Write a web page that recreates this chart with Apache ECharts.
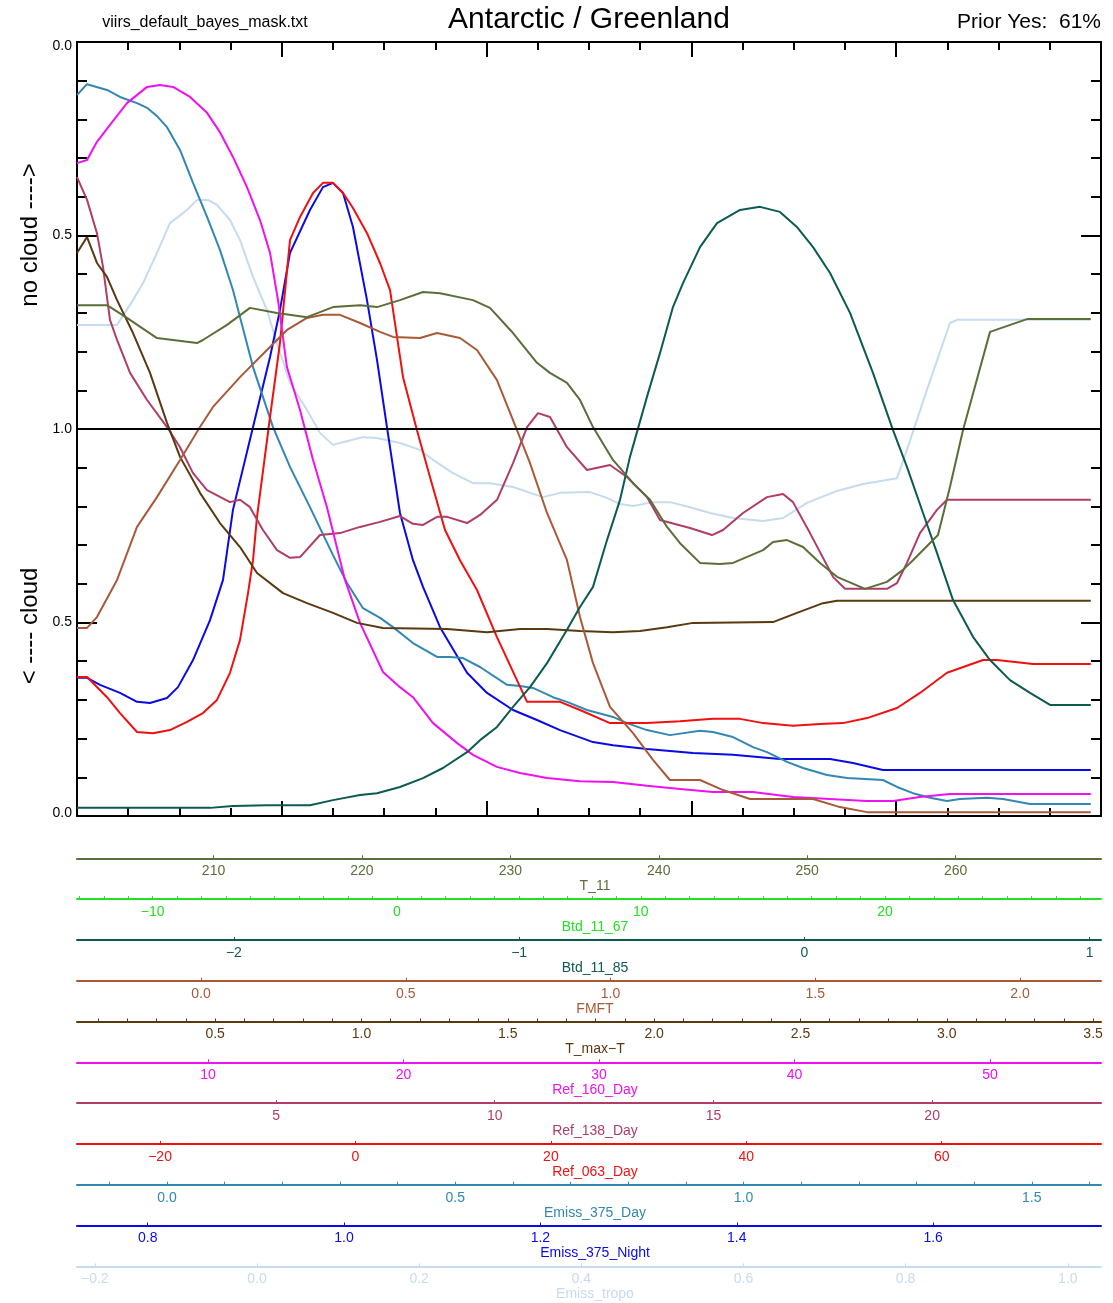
<!DOCTYPE html>
<html>
<head>
<meta charset="utf-8">
<script src="https://cdn.jsdelivr.net/npm/echarts@6/dist/echarts.min.js"></script>
<style>
  html, body { margin: 0; padding: 0; background: #fff; }
  #main { width: 1113px; height: 1303px; }
</style>
</head>
<body>
<div id="main"></div>
<script>
// curves: [bin, value] where value 0..2 (0 = bottom "0.0", 1 = centre "1.0", 2 = top "0.0")
var emissTropo = [[0,1.269],[3.91,1.269],[5.47,1.333],[6.45,1.377],[7.81,1.455],[9.08,1.532],[10.74,1.566],[11.72,1.592],[12.79,1.592],[13.67,1.579],[14.94,1.540],[15.92,1.488],[17.19,1.393],[18.55,1.307],[19.53,1.222],[20.8,1.119],[22.46,1.049],[23.73,0.990],[25.0,0.959],[25.98,0.966],[27.93,0.979],[29.3,0.977],[31.54,0.964],[33.5,0.946],[34.77,0.920],[36.72,0.886],[38.67,0.860],[40.33,0.860],[42.58,0.850],[45.51,0.824],[47.17,0.835],[50.1,0.837],[51.76,0.822],[53.03,0.806],[54.3,0.801],[56.25,0.811],[57.91,0.811],[59.86,0.798],[61.82,0.783],[64.06,0.770],[67.0,0.762],[68.95,0.770],[71.29,0.809],[74.22,0.840],[76.76,0.858],[80.08,0.873],[81.05,0.946],[83.0,1.101],[85.25,1.274],[85.94,1.282],[99,1.282]];
var emiss375Night = [[0,0.357],[0.98,0.357],[2.25,0.339],[4.2,0.318],[5.86,0.295],[7.13,0.292],[8.79,0.305],[9.86,0.333],[11.33,0.403],[12.99,0.506],[14.26,0.610],[15.23,0.791],[17.19,1.005],[18.85,1.186],[19.82,1.307],[20.8,1.455],[22.75,1.566],[24.02,1.625],[25.0,1.636],[25.98,1.610],[26.95,1.522],[28.32,1.333],[29.3,1.178],[30.27,1.005],[31.54,0.783],[32.81,0.661],[33.79,0.592],[35.45,0.488],[38.09,0.370],[40.04,0.318],[42.58,0.274],[44.92,0.248],[47.17,0.222],[50.39,0.191],[52.34,0.183],[55.66,0.173],[60.16,0.163],[64.06,0.158],[68.65,0.147],[73.54,0.147],[75.78,0.137],[78.7,0.119],[99,0.119]];
var emiss375Day = [[0,1.863],[0.98,1.891],[2.93,1.876],[4.2,1.858],[5.86,1.842],[6.84,1.830],[7.91,1.806],[8.79,1.780],[10.06,1.721],[11.33,1.636],[12.7,1.548],[13.96,1.463],[15.23,1.359],[17.19,1.160],[19.14,1.005],[20.8,0.902],[22.75,0.798],[25.0,0.674],[26.37,0.602],[27.93,0.537],[29.6,0.512],[30.86,0.488],[32.81,0.447],[35.16,0.411],[36.43,0.411],[37.7,0.408],[39.36,0.385],[42.0,0.339],[43.26,0.336],[44.53,0.331],[46.48,0.307],[47.85,0.295],[49.8,0.274],[52.34,0.256],[53.7,0.240],[55.66,0.222],[57.9,0.209],[60.84,0.220],[62.1,0.217],[64.06,0.204],[66.02,0.178],[67.38,0.165],[69.34,0.140],[70.9,0.124],[73.24,0.106],[75.2,0.098],[78.7,0.093],[80.08,0.075],[81.64,0.059],[83.3,0.047],[84.96,0.039],[86.23,0.044],[88.87,0.047],[90.43,0.044],[93.07,0.031],[99,0.031]];
var ref063Day = [[0,0.359],[0.98,0.359],[2.93,0.307],[4.2,0.266],[5.86,0.217],[7.42,0.214],[9.08,0.222],[10.74,0.243],[12.3,0.266],[13.67,0.300],[14.94,0.370],[15.92,0.455],[16.7,0.576],[17.19,0.661],[17.58,0.773],[18.85,1.031],[19.82,1.222],[20.8,1.488],[21.78,1.548],[23.05,1.610],[24.02,1.636],[25.0,1.636],[25.98,1.610],[26.95,1.571],[28.32,1.506],[29.59,1.429],[30.57,1.359],[31.84,1.134],[33.2,0.997],[34.47,0.876],[35.94,0.739],[37.4,0.661],[39.06,0.584],[41.0,0.463],[43.95,0.295],[47.17,0.295],[49.12,0.274],[52.05,0.240],[55.66,0.240],[58.89,0.245],[62.1,0.251],[64.75,0.251],[67.0,0.240],[69.92,0.233],[72.56,0.238],[74.8,0.240],[77.15,0.253],[80.08,0.279],[82.32,0.318],[84.96,0.370],[88.48,0.403],[89.84,0.403],[93.36,0.393],[99,0.393]];
var ref138Day = [[0,1.651],[0.98,1.592],[1.95,1.506],[2.54,1.419],[3.22,1.282],[3.91,1.230],[5.18,1.145],[6.84,1.075],[8.79,1.005],[10.06,0.953],[11.33,0.886],[12.7,0.842],[14.94,0.811],[15.92,0.817],[16.89,0.798],[18.16,0.739],[19.53,0.687],[20.8,0.667],[21.78,0.669],[23.73,0.726],[25.68,0.731],[27.64,0.747],[29.59,0.760],[31.54,0.775],[32.81,0.755],[33.79,0.752],[35.16,0.773],[36.13,0.773],[38.09,0.757],[39.36,0.778],[41.02,0.817],[42.58,0.912],[43.95,1.005],[45.02,1.041],[46.19,1.031],[47.85,0.953],[49.8,0.894],[52.05,0.907],[53.71,0.876],[55.66,0.824],[56.93,0.765],[59.86,0.744],[62.01,0.726],[63.09,0.739],[65.04,0.783],[67.38,0.824],[68.95,0.832],[69.92,0.811],[71.58,0.731],[73.83,0.618],[75.0,0.587],[79.1,0.587],[80.08,0.602],[81.05,0.654],[82.32,0.731],[83.98,0.791],[84.96,0.817],[99,0.817]];
var ref160Day = [[0,1.687],[0.98,1.695],[1.95,1.742],[3.22,1.786],[4.88,1.842],[6.84,1.884],[8.1,1.889],[9.38,1.884],[11.04,1.858],[12.7,1.817],[13.96,1.767],[15.23,1.703],[16.6,1.625],[17.87,1.540],[18.85,1.455],[19.63,1.333],[20.5,1.160],[21.78,1.049],[23.05,0.920],[24.41,0.798],[26.17,0.610],[27.64,0.499],[29.88,0.372],[31.54,0.333],[32.81,0.307],[34.77,0.240],[37.1,0.189],[38.67,0.158],[41.0,0.127],[43.26,0.111],[45.9,0.098],[49.1,0.090],[52.34,0.088],[55.66,0.078],[58.9,0.070],[62.1,0.062],[66.0,0.062],[69.9,0.049],[73.5,0.044],[77.1,0.039],[79.7,0.039],[82.3,0.049],[85.25,0.057],[99,0.057]];
var tMaxT = [[0,1.455],[0.98,1.496],[1.95,1.429],[2.93,1.393],[3.91,1.333],[5.47,1.248],[7.13,1.145],[8.79,1.016],[10.06,0.928],[12.01,0.835],[13.96,0.757],[15.92,0.695],[17.58,0.628],[20.12,0.576],[22.46,0.550],[25.0,0.525],[27.34,0.499],[29.88,0.486],[36.13,0.483],[40.04,0.475],[43.26,0.483],[45.9,0.483],[49.12,0.478],[52.34,0.475],[54.98,0.478],[57.62,0.488],[60.16,0.499],[67.97,0.501],[70.31,0.525],[72.85,0.550],[74.22,0.556],[99,0.556]];
var fmft = [[0,0.486],[0.98,0.486],[1.95,0.514],[3.91,0.610],[5.86,0.747],[7.81,0.824],[10.06,0.920],[12.01,1.005],[13.28,1.057],[15.92,1.134],[18.55,1.204],[20.51,1.256],[22.46,1.287],[24.02,1.295],[25.68,1.295],[27.64,1.274],[29.59,1.251],[30.86,1.238],[33.5,1.235],[35.16,1.248],[37.4,1.235],[39.06,1.204],[41.0,1.127],[42.58,1.023],[44.24,0.912],[45.9,0.783],[47.85,0.661],[49.12,0.514],[50.39,0.395],[52.05,0.282],[54.3,0.214],[56.25,0.145],[57.9,0.093],[60.84,0.093],[63.09,0.067],[65.72,0.044],[71.88,0.044],[74.5,0.023],[77.15,0.010],[99,0.010]];
var btd1185 = [[0,0.021],[12.99,0.021],[15.23,0.026],[18.55,0.028],[22.75,0.028],[25.0,0.041],[27.64,0.054],[29.3,0.059],[31.54,0.075],[33.79,0.098],[35.74,0.124],[38.09,0.165],[39.36,0.196],[41.02,0.230],[42.58,0.282],[44.24,0.333],[45.9,0.395],[47.85,0.481],[49.12,0.540],[50.39,0.592],[51.76,0.713],[53.03,0.817],[54.0,0.928],[55.66,1.083],[56.93,1.196],[58.2,1.315],[59.18,1.377],[60.84,1.470],[62.5,1.532],[64.75,1.566],[66.7,1.574],[68.65,1.561],[70.3,1.522],[71.88,1.470],[73.54,1.403],[75.49,1.300],[77.73,1.145],[79.69,0.997],[81.05,0.902],[82.62,0.783],[83.98,0.680],[85.55,0.558],[87.5,0.463],[89.16,0.403],[91.11,0.351],[93.07,0.318],[95.02,0.287],[99,0.287]];
var t11 = [[0,1.320],[2.93,1.320],[4.88,1.287],[7.81,1.235],[11.72,1.222],[12.3,1.230],[14.65,1.269],[16.89,1.313],[19.53,1.300],[22.46,1.289],[25.0,1.315],[27.64,1.320],[29.3,1.315],[31.54,1.333],[33.79,1.354],[35.45,1.351],[38.67,1.333],[40.33,1.313],[42.58,1.248],[44.92,1.171],[46.19,1.145],[47.85,1.119],[49.12,1.075],[50.39,1.005],[52.34,0.920],[54.3,0.860],[55.96,0.817],[57.62,0.747],[58.89,0.705],[60.84,0.654],[62.79,0.651],[64.06,0.654],[67.0,0.687],[67.97,0.708],[69.34,0.713],[70.9,0.695],[72.56,0.654],[74.22,0.618],[76.95,0.587],[79.1,0.605],[80.66,0.636],[81.64,0.661],[84.08,0.726],[85.25,0.850],[86.52,0.997],[89.16,1.251],[92.77,1.284],[99,1.284]];

// tick labels of the stacked variable axes
var t11Labels = [210, 220, 230, 240, 250, 260];
var btd1167Labels = [-10, 0, 10, 20];
var btd1185Labels = [-2, -1, 0, 1];
var fmftLabels = [0.0, 0.5, 1.0, 1.5, 2.0];
var tMaxTLabels = [0.5, 1.0, 1.5, 2.0, 2.5, 3.0, 3.5];
var ref160Labels = [10, 20, 30, 40, 50];
var ref138Labels = [5, 10, 15, 20];
var ref063Labels = [-20, 0, 20, 40, 60];
var emissDayLabels = [0.0, 0.5, 1.0, 1.5];
var emissNightLabels = [0.8, 1.0, 1.2, 1.4, 1.6];
var emissTropoLabels = [-0.2, 0.0, 0.2, 0.4, 0.6, 0.8, 1.0];

function steps(a, b, s) {
    var out = [];
    for (var i = 0; a + i * s <= b + 1e-9; i++) out.push(+(a + i * s).toFixed(3));
    return out;
}

var rows = [
    { name: 'T_11', color: '#5a6e38', min: 200.8, max: 269.8, labels: t11Labels, ticks: t11Labels, dec: 0 },
    { name: 'Btd_11_67', color: '#22e022', min: -13.1, max: 28.85, labels: btd1167Labels, ticks: steps(-13, 28, 1), dec: 0 },
    { name: 'Btd_11_85', color: '#0b5b50', min: -2.55, max: 1.04, labels: btd1185Labels, ticks: btd1185Labels, dec: 0 },
    { name: 'FMFT', color: '#a85a38', min: -0.303, max: 2.198, labels: fmftLabels, ticks: fmftLabels, dec: 1 },
    { name: 'T_max\u2212T', color: '#5a3810', min: 0.028, max: 3.527, labels: tMaxTLabels, ticks: steps(0.1, 3.5, 0.1), dec: 1 },
    { name: 'Ref_160_Day', color: '#f010f0', min: 3.3, max: 55.68, labels: ref160Labels, ticks: ref160Labels, dec: 0 },
    { name: 'Ref_138_Day', color: '#b03c68', min: 0.45, max: 23.86, labels: ref138Labels, ticks: ref138Labels, dec: 0 },
    { name: 'Ref_063_Day', color: '#f01010', min: -28.5, max: 76.3, labels: ref063Labels, ticks: ref063Labels, dec: 0 },
    { name: 'Emiss_375_Day', color: '#3287b5', min: -0.156, max: 1.62, labels: emissDayLabels, ticks: steps(-0.1, 1.6, 0.1), dec: 1 },
    { name: 'Emiss_375_Night', color: '#0a0ae6', min: 0.728, max: 1.771, labels: emissNightLabels, ticks: emissNightLabels, dec: 1 },
    { name: 'Emiss_tropo', color: '#c6dbef', min: -0.222, max: 1.041, labels: emissTropoLabels, ticks: emissTropoLabels, dec: 1 }
];

var curves = [
    { name: 'Emiss_tropo', color: '#c6dbef', data: emissTropo },
    { name: 'Emiss_375_Night', color: '#0a0ae6', data: emiss375Night },
    { name: 'Emiss_375_Day', color: '#3287b5', data: emiss375Day },
    { name: 'Ref_063_Day', color: '#f01010', data: ref063Day },
    { name: 'Ref_138_Day', color: '#b03c68', data: ref138Day },
    { name: 'Ref_160_Day', color: '#f010f0', data: ref160Day },
    { name: 'T_max-T', color: '#5a3810', data: tMaxT },
    { name: 'FMFT', color: '#a85a38', data: fmft },
    { name: 'Btd_11_85', color: '#0b5b50', data: btd1185 },
    { name: 'T_11', color: '#5a6e38', data: t11 }
];

var FONT = 'Liberation Sans, Arial, Helvetica, sans-serif';
var chart = echarts.init(document.getElementById('main'));

var grids = [{ left: 77, top: 42, width: 1024, height: 774 }];
var xAxes = [];
var yAxes = [];

// 0..1 reads up from the bottom, 1..2 reads back down towards the top
function yLabel(v) {
    var s = (v <= 1 ? v : 2 - v).toFixed(1);
    if (v >= 2) return '{t|' + s + '}';
    if (v <= 0) return '{b|' + s + '}';
    return s;
}

// main plot frame
var mainX = {
    type: 'value', min: 0, max: 100, interval: 20, gridIndex: 0,
    axisLine: { onZero: false, lineStyle: { color: '#000', width: 2 } },
    axisTick: { inside: true, length: 15, lineStyle: { color: '#000', width: 2 } },
    minorTick: { show: true, splitNumber: 4, length: 8, lineStyle: { color: '#000', width: 2 } },
    axisLabel: { show: false },
    splitLine: { show: false }
};
xAxes.push(Object.assign({ position: 'bottom' }, mainX));
xAxes.push(Object.assign({ position: 'top' }, mainX));

var mainY = {
    type: 'value', min: 0, max: 2, interval: 0.5, gridIndex: 0,
    axisLine: { show: true, onZero: false, lineStyle: { color: '#000', width: 2 } },
    axisTick: { show: true, inside: true, length: 20, lineStyle: { color: '#000', width: 2 } },
    minorTick: { show: true, splitNumber: 5, length: 10, lineStyle: { color: '#000', width: 2 } },
    splitLine: { show: false }
};
var labelFont = { color: '#000', fontSize: 14, fontFamily: FONT };
yAxes.push(Object.assign({
    position: 'left',
    axisLabel: Object.assign({
        show: true, formatter: yLabel, margin: 5,
        rich: {
            t: Object.assign({ padding: [9, 0, 0, 0] }, labelFont),
            b: Object.assign({ padding: [0, 0, 6, 0] }, labelFont)
        }
    }, labelFont)
}, mainY));
yAxes.push(Object.assign({ position: 'right', axisLabel: { show: false } }, mainY));

// stacked variable axes below the plot
rows.forEach(function(r, i) {
    var lineY = 858.3 + i * 40.8;
    var g = grids.length;
    grids.push({ left: 77, width: 1024, top: lineY - 10, height: 10 });
    xAxes.push({
        type: 'value', gridIndex: g, position: 'bottom', min: r.min, max: r.max,
        name: r.name, nameLocation: 'middle', nameGap: 21,
        nameTextStyle: { color: r.color, fontSize: 14, fontFamily: FONT, padding: [0, 0, 0, 12] },
        axisLine: { onZero: false, lineStyle: { color: r.color, width: 2 } },
        axisTick: { show: true, inside: true, length: 3, customValues: r.ticks, lineStyle: { color: r.color, width: 1 } },
        axisLabel: {
            customValues: r.labels, margin: 6, color: r.color, fontSize: 14, fontFamily: FONT,
            formatter: function(v) {
                var s = Math.abs(v).toFixed(r.dec);
                return v < 0 ? '\u2212' + s : s;
            }
        },
        splitLine: { show: false }
    });
    yAxes.push({ type: 'value', gridIndex: g, show: false, min: 0, max: 1 });
});

var series = curves.map(function(c, i) {
    return {
        name: c.name, type: 'line', xAxisIndex: 0, yAxisIndex: 0,
        data: c.data, showSymbol: false, symbol: 'none', smooth: false,
        lineStyle: { color: c.color, width: 2 },
        z: 2 + i * 0.01,
        animation: false
    };
});
// the 1.0 divider
series[series.length - 1].markLine = {
    silent: true, symbol: 'none', animation: false,
    label: { show: false },
    lineStyle: { color: '#000', width: 2, type: 'solid' },
    data: [{ yAxis: 1 }]
};

option = {
    backgroundColor: '#fff',
    animation: false,
    grid: grids,
    xAxis: xAxes,
    yAxis: yAxes,
    series: series,
    graphic: [
        { type: 'text', x: 205, y: 23, style: { text: 'viirs_default_bayes_mask.txt', font: '16px ' + FONT, fill: '#000', textAlign: 'center', textVerticalAlign: 'middle' } },
        { type: 'text', x: 589, y: 20, style: { text: 'Antarctic / Greenland', font: '30px ' + FONT, fill: '#000', textAlign: 'center', textVerticalAlign: 'middle' } },
        { type: 'text', x: 1101, y: 22, style: { text: 'Prior Yes:  61%', font: '21px ' + FONT, fill: '#000', textAlign: 'right', textVerticalAlign: 'middle' } },
        { type: 'text', x: 30, y: 235, rotation: Math.PI / 2, style: { text: 'no cloud ---->', font: '24px ' + FONT, fill: '#000', textAlign: 'center', textVerticalAlign: 'middle' } },
        { type: 'text', x: 30, y: 626, rotation: Math.PI / 2, style: { text: '< ---- cloud', font: '24px ' + FONT, fill: '#000', textAlign: 'center', textVerticalAlign: 'middle' } }
    ]
};

chart.setOption(option);
</script>
</body>
</html>
